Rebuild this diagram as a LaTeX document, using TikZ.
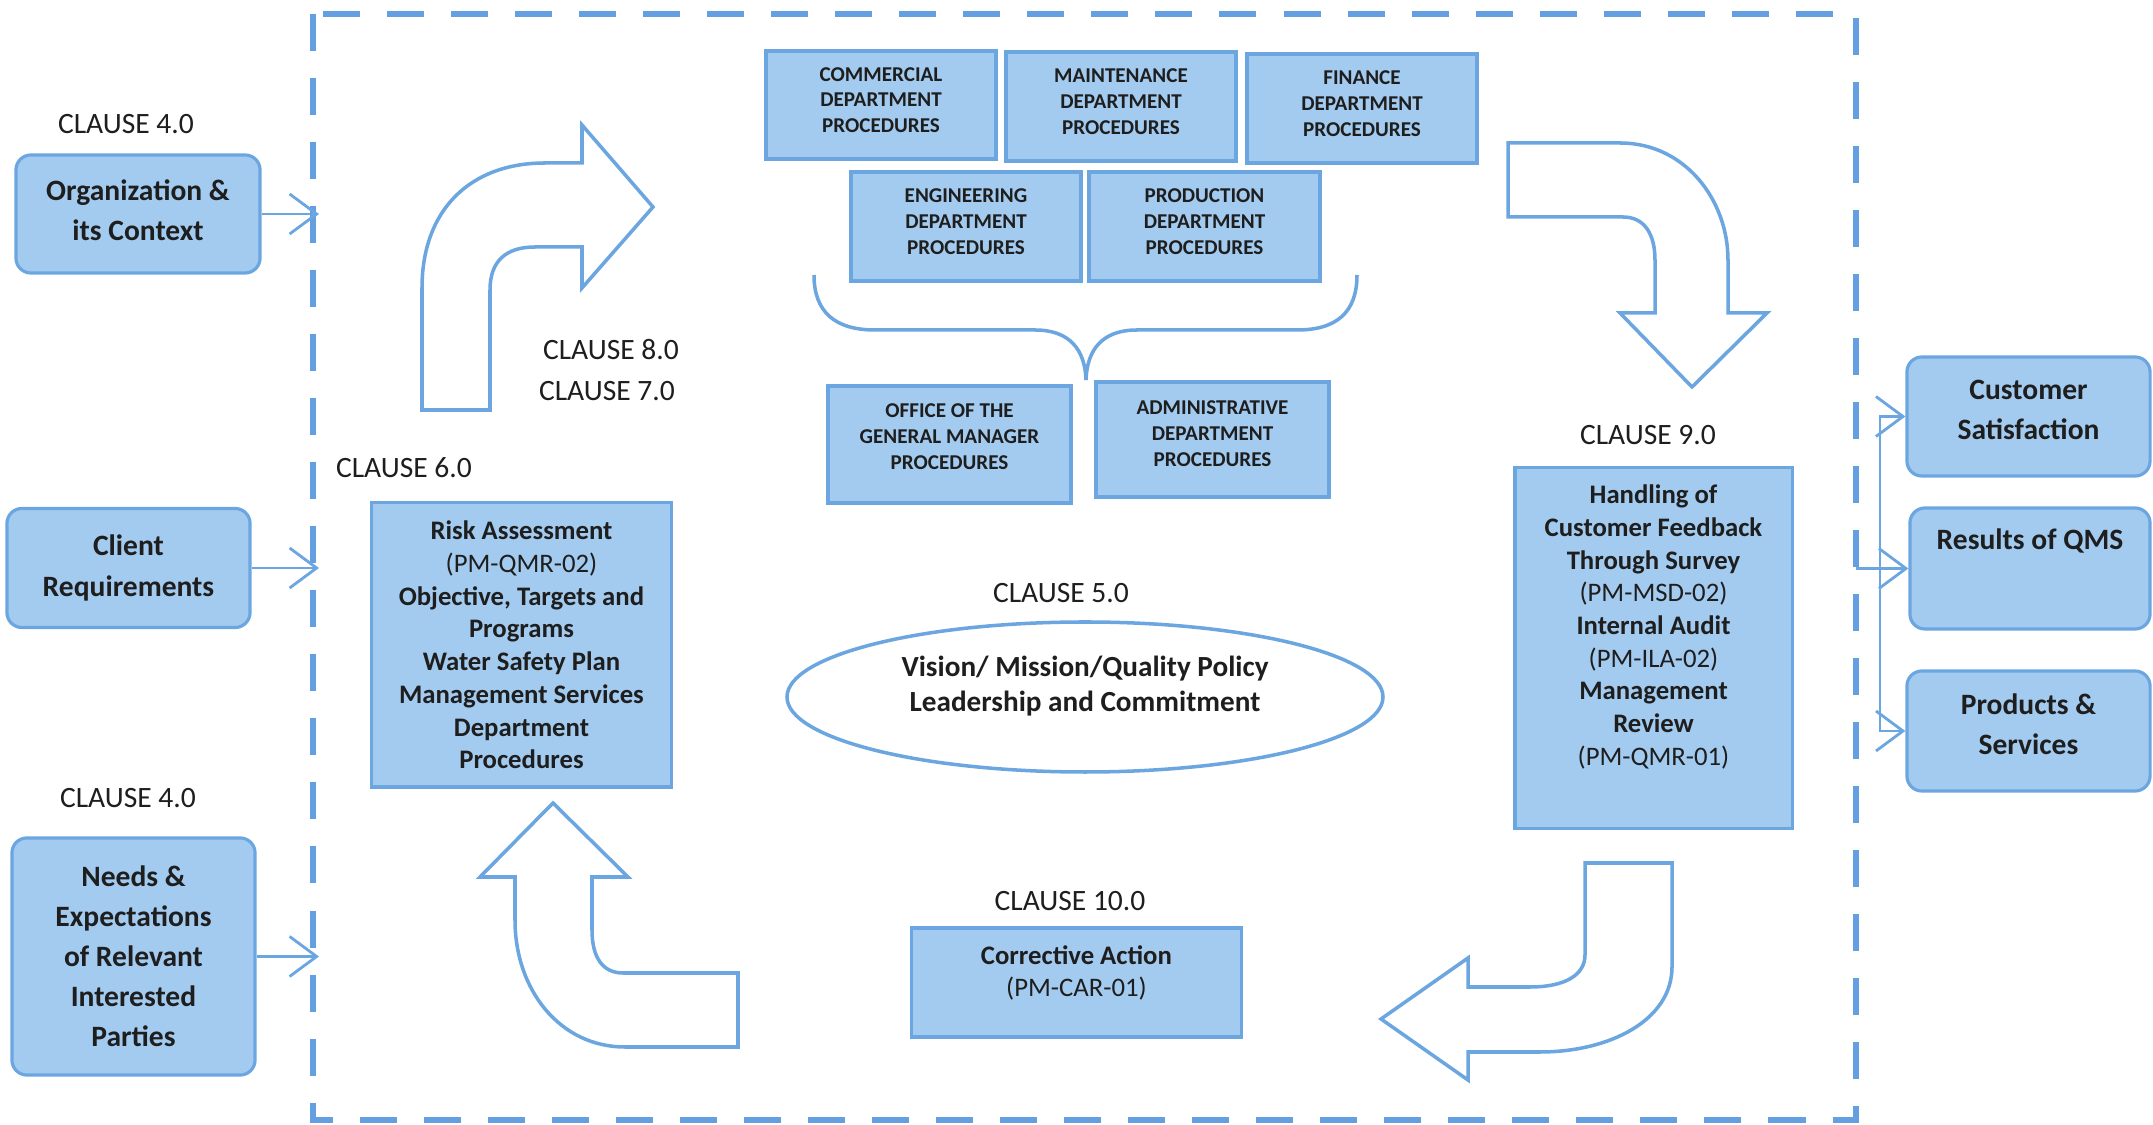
\documentclass[tikz,border=0pt]{standalone}
\usepackage{fontspec}
\setmainfont{Carlito}
\usetikzlibrary{arrows.meta}
\definecolor{boxfill}{RGB}{163,203,240}
\definecolor{boxline}{RGB}{108,166,225}
\definecolor{frameblue}{RGB}{100,160,225}
\definecolor{ink}{RGB}{30,30,30}
\tikzset{
  panel/.style={draw=boxline, fill=boxfill, line width=0.9pt, inner sep=0pt},
  roundpanel/.style={panel, rounded corners=0.15cm},
  bigtext/.style={font=\bfseries\fontsize{8.4}{11.4}\selectfont, align=center, text=ink},
  midtext/.style={font=\fontsize{7.6}{9.3}\selectfont, align=center, text=ink},
  smalltext/.style={font=\bfseries\fontsize{6}{7.3}\selectfont, align=center, text=ink, text depth=0.1cm},
  ovaltext/.style={font=\bfseries\fontsize{8.3}{10.2}\selectfont, align=center, text=ink},
  clause/.style={font=\fontsize{8.4}{10}\selectfont, text=ink},
  feed/.style={draw=boxline, line width=0.8pt, -{Straight Barb[length=2.7mm,width=4mm]}},
  turnarrow/.style={draw=boxline, line width=1pt, line join=miter},
}
\begin{document}
\begin{tikzpicture}[x=0.01cm, y=-0.01cm]
  \fill[white] (0,0) rectangle (2153,1125);
  \draw[frameblue, line width=1.7pt, dash pattern=on 0.37cm off 0.27cm] (313,14) rectangle (1856,1120);
  \coordinate (frameW) at (319,0);
  \coordinate (frameE) at (1856,0);
  \coordinate (hub) at (1880,568.5);

  \node[clause] (c4a) at (126,124) {CLAUSE 4.0};
  \node[roundpanel, minimum width=2.44cm, minimum height=1.18cm, bigtext, text depth=0.08cm] (org) at (138,214) {Organization \&\\its Context};
  \node[roundpanel, minimum width=2.43cm, minimum height=1.19cm, bigtext] (client) at (128.5,568) {Client\\Requirements};
  \node[clause] (c4b) at (128,798) {CLAUSE 4.0};
  \node[roundpanel, minimum width=2.43cm, minimum height=2.37cm, bigtext] (needs) at (133.5,956.5) {Needs \&\\Expectations\\of Relevant\\Interested\\Parties};

  \node[panel, minimum width=2.30cm, minimum height=1.08cm, smalltext] (commercial) at (881,105) {COMMERCIAL\\DEPARTMENT\\PROCEDURES};
  \node[panel, minimum width=2.30cm, minimum height=1.09cm, smalltext] (maintenance) at (1121,106.5) {MAINTENANCE\\DEPARTMENT\\PROCEDURES};
  \node[panel, minimum width=2.30cm, minimum height=1.09cm, smalltext] (finance) at (1362,108.5) {FINANCE\\DEPARTMENT\\PROCEDURES};
  \node[panel, minimum width=2.30cm, minimum height=1.09cm, smalltext] (engineering) at (966,226.5) {ENGINEERING\\DEPARTMENT\\PROCEDURES};
  \node[panel, minimum width=2.31cm, minimum height=1.09cm, smalltext] (production) at (1204.5,226.5) {PRODUCTION\\DEPARTMENT\\PROCEDURES};
  \draw[boxline, line width=1pt] (814,275) .. controls (814,312) and (835,330) .. (875,330) -- (1035,330)
    .. controls (1070,330) and (1085,350) .. (1086,380)
    .. controls (1087,350) and (1102,330) .. (1137,330) -- (1297,330)
    .. controls (1337,330) and (1357,312) .. (1357,275);
  \node[panel, minimum width=2.43cm, minimum height=1.17cm, smalltext, text depth=0.16cm] (office) at (949.5,444.5) {OFFICE OF THE\\GENERAL MANAGER\\PROCEDURES};
  \node[panel, minimum width=2.33cm, minimum height=1.15cm, smalltext, text depth=0.12cm] (admin) at (1212.5,439.5) {ADMINISTRATIVE\\DEPARTMENT\\PROCEDURES};

  \node[clause] (c8) at (611,350) {CLAUSE 8.0};
  \node[clause] (c7) at (607,391) {CLAUSE 7.0};
  \node[clause] (c6) at (404,468) {CLAUSE 6.0};
  \node[panel, minimum width=2.99cm, minimum height=2.84cm, midtext] (risk) at (521.5,645) {\textbf{Risk Assessment}\\(PM-QMR-02)\\\textbf{Objective, Targets and}\\\textbf{Programs}\\\textbf{Water Safety Plan}\\\textbf{Management Services}\\\textbf{Department}\\\textbf{Procedures}};

  \node[clause] (c5) at (1061,593) {CLAUSE 5.0};
  \draw[boxline, line width=1pt] (1085,697) ellipse [x radius=298, y radius=75];
  \node[ovaltext] (policy) at (1085,686) {Vision/ Mission/Quality Policy\\Leadership and Commitment};

  \node[clause] (c9) at (1648,435) {CLAUSE 9.0};
  \node[panel, minimum width=2.77cm, minimum height=3.60cm] (handling) at (1653.5,648) {};
  \node[midtext] (handlingtxt) at (1653.5,627) {\textbf{Handling of}\\\textbf{Customer Feedback}\\\textbf{Through Survey}\\(PM-MSD-02)\\\textbf{Internal Audit}\\(PM-ILA-02)\\\textbf{Management}\\\textbf{Review}\\(PM-QMR-01)};

  \node[clause] (c10) at (1070,901) {CLAUSE 10.0};
  \node[panel, minimum width=3.29cm, minimum height=1.09cm] (corrective) at (1076.5,982.5) {};
  \node[midtext] (correctivetxt) at (1076.5,973) {\textbf{Corrective Action}\\(PM-CAR-01)};

  \node[roundpanel, minimum width=2.43cm, minimum height=1.19cm, bigtext, text depth=0.14cm] (cust) at (2028.5,416.5) {Customer\\Satisfaction};
  \node[roundpanel, minimum width=2.40cm, minimum height=1.21cm] (results) at (2030,568.5) {};
  \node[bigtext] (resultstxt) at (2030,541) {Results of QMS};
  \node[roundpanel, minimum width=2.43cm, minimum height=1.20cm, bigtext, text depth=0.14cm] (products) at (2028.5,731) {Products \&\\Services};

  \draw[turnarrow] (422,410) -- (422,288) .. controls (422,210) and (470,163) .. (545,163) -- (582,163) -- (582,125) -- (653,207) -- (582,288) -- (582,247) -- (535,247) .. controls (505,247) and (490,262) .. (490,290) -- (490,410) -- cycle;
  \draw[turnarrow] (1508,143) -- (1620,143) .. controls (1685,143) and (1728,200) .. (1728,260) -- (1728,313) -- (1767,313) -- (1692,387) -- (1620,313) -- (1655,313) -- (1655,260) .. controls (1655,235) and (1645,217) .. (1623,217) -- (1508,217) -- cycle;
  \draw[turnarrow] (1585,863) -- (1672,863) -- (1672,967) .. controls (1672,1020) and (1610,1052) .. (1540,1052) -- (1468,1052) -- (1468,1080) -- (1381,1019) -- (1468,958) -- (1468,987) -- (1530,987) .. controls (1565,987) and (1585,975) .. (1585,955) -- cycle;
  \draw[turnarrow] (553,803) -- (628,877) -- (592,877) -- (592,930) .. controls (592,958) and (603,973) .. (623,973) -- (738,973) -- (738,1047) -- (625,1047) .. controls (560,1047) and (515,990) .. (515,920) -- (515,877) -- (480,877) -- cycle;

  \draw[feed] (org.east) -- (org.east -| frameW);
  \draw[feed] (client.east) -- (client.east -| frameW);
  \draw[feed] (needs.east) -- (needs.east -| frameW);
  \draw[feed] (results.west -| frameE) -- (results.west);
  \draw[feed] (hub) |- (cust.west);
  \draw[feed] (hub) |- (products.west);
\end{tikzpicture}
\end{document}
